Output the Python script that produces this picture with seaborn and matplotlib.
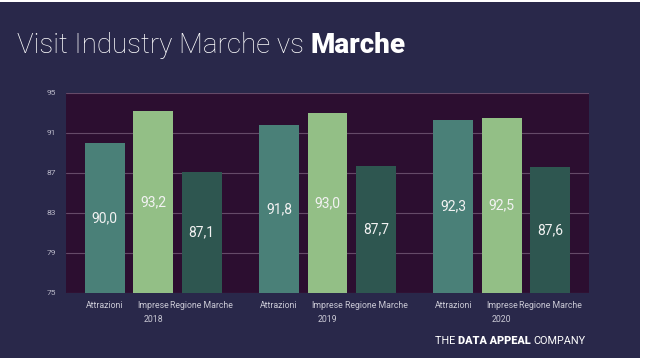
import numpy as np
import pandas as pd
import matplotlib
matplotlib.use("Agg")
import matplotlib.pyplot as plt
from matplotlib.patches import Rectangle
import seaborn as sns

# ---- data ----
years = ["2018", "2019", "2020"]
series = ["Attrazioni", "Imprese", "Regione Marche"]
attrazioni = [90.0, 91.8, 92.3]
imprese = [93.2, 93.0, 92.5]
regione = [87.1, 87.7, 87.6]
y_ticks = [75, 79, 83, 87, 91, 95]

df = pd.DataFrame({
    "year": years * 3,
    "series": [series[0]] * 3 + [series[1]] * 3 + [series[2]] * 3,
    "value": attrazioni + imprese + regione,
})

# ---- style ----
FIG_BG = "#29284a"
PLOT_BG = "#2c0e30"
GRID = "#654a68"
palette = {"Attrazioni": "#4a8078", "Imprese": "#93bf86", "Regione Marche": "#2e5650"}

sns.set_theme(style="dark")
plt.rcParams["font.family"] = ["Roboto", "DejaVu Sans"]

fig = plt.figure(figsize=(6.5, 3.58), dpi=100, facecolor="white")
fig.patches.append(Rectangle((0, 0), 640 / 650, 356 / 358, transform=fig.transFigure,
                             facecolor=FIG_BG, edgecolor="none", zorder=-10))
ax = fig.add_axes([66 / 650, 65 / 358, 523 / 650, 200 / 358])
ax.set_facecolor(PLOT_BG)

sns.barplot(data=df, x="year", y="value", hue="series", order=years,
            hue_order=series, palette=palette, width=0.834, gap=0.18,
            saturation=1, legend=False, linewidth=0, edgecolor="none", ax=ax)

ax.set_ylim(75, 95)
ax.set_xlim(-0.5, 2.5)
ax.set_yticks(y_ticks)
ax.set_yticklabels([str(t) for t in y_ticks], color="#b9b8c8", fontsize=6)
ax.grid(axis="y", color=GRID, linewidth=0.8)
ax.grid(axis="x", visible=False)
ax.set_axisbelow(True)
for s in ax.spines.values():
    s.set_visible(False)
ax.tick_params(axis="y", length=0, pad=7)
ax.set_xlabel("")
ax.set_ylabel("")

# value labels inside bars
for cont in ax.containers:
    ax.bar_label(cont, labels=[f"{v:.1f}".replace(".", ",") for v in cont.datavalues],
                 label_type="center", color="#f2f2f2", fontsize=10)

# outer series names as minor ticks; middle series + year as major ticks
centers, names = [], []
for name, cont in zip(series, ax.containers):
    if name == series[1]:
        continue
    for p in cont.patches:
        centers.append(p.get_x() + p.get_width() / 2)
        names.append(name)
ax.set_xticks(centers, minor=True)
ax.set_xticklabels(names, minor=True, fontsize=6.3, color="#c9c8d4", va="top")
ax.set_xticks(range(len(years)))
ax.set_xticklabels([f"{series[1]}\n{y}" for y in years], fontsize=6.3,
                   color="#c9c8d4", va="top", linespacing=1.6)
ax.tick_params(axis="x", which="both", length=0, pad=6)

# title
t1 = fig.text(17 / 650, 1 - 53 / 358, "Visit Industry Marche vs ", color="white",
              fontsize=20, fontweight="light", ha="left", va="baseline")
fig.canvas.draw()
bb = t1.get_window_extent()
fig.text(bb.x1 / 650, 1 - 53 / 358, "Marche", color="white", fontsize=20,
         fontweight="black", ha="left", va="baseline")

# footer
f1 = fig.text(435 / 650, 1 - 344 / 358, "THE ", color="white", fontsize=7.8,
              ha="left", va="baseline")
fig.canvas.draw()
x = f1.get_window_extent().x1
f2 = fig.text(x / 650, 1 - 344 / 358, "DATA APPEAL ", color="white", fontsize=7.8,
              fontweight="black", ha="left", va="baseline")
fig.canvas.draw()
x = f2.get_window_extent().x1
fig.text(x / 650, 1 - 344 / 358, "COMPANY", color="white", fontsize=7.8,
         ha="left", va="baseline")

fig.savefig("out.png", dpi=100, facecolor="white")
